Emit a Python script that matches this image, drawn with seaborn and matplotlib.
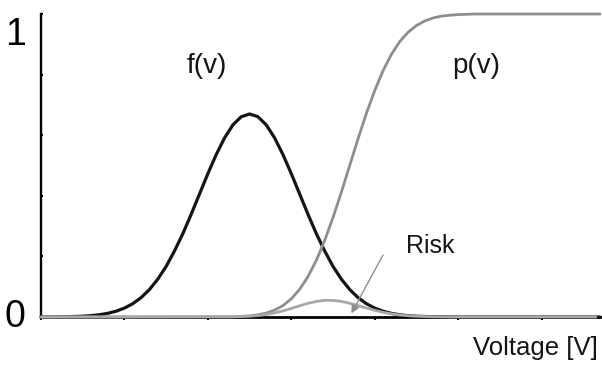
import numpy as np
import pandas as pd
import matplotlib
matplotlib.use("Agg")
import matplotlib.pyplot as plt
import matplotlib.transforms as mtransforms
import seaborn as sns

# ---------------------------------------------------------
# Values (x in tick units)
# ---------------------------------------------------------

# f(v): black bell curve
v_f = [0.0, 0.3, 0.5, 0.6, 0.7, 0.8, 0.9, 1.0, 1.1, 1.2, 1.3, 1.4, 1.5,
       1.6, 1.7, 1.8, 1.9, 2.0, 2.1, 2.2, 2.3, 2.4, 2.5, 2.6, 2.7, 2.8,
       2.9, 3.0, 3.1, 3.2, 3.3, 3.4, 3.5, 3.6, 3.7, 3.8, 3.9, 4.0, 4.1,
       4.2, 4.3, 4.4, 4.5, 4.7, 5.0, 6.7]
f_v = [0.0, 0.0008, 0.0026, 0.0045, 0.0074, 0.0121, 0.0191, 0.0294,
       0.044, 0.064, 0.0907, 0.125, 0.167, 0.218, 0.275, 0.339, 0.406,
       0.473, 0.536, 0.591, 0.634, 0.661, 0.670, 0.661, 0.634, 0.591,
       0.536, 0.473, 0.406, 0.339, 0.275, 0.218, 0.167, 0.125, 0.0907,
       0.064, 0.044, 0.0294, 0.0191, 0.0121, 0.0074, 0.0045, 0.0026,
       0.0008, 0.0, 0.0]

# p(v): grey S-curve
v_p = [0.0, 2.3, 2.4, 2.5, 2.6, 2.7, 2.8, 2.9, 3.0, 3.1, 3.2, 3.3, 3.4,
       3.5, 3.6, 3.7, 3.8, 3.9, 4.0, 4.1, 4.2, 4.3, 4.4, 4.5, 4.6, 4.7,
       4.8, 4.9, 5.0, 5.2, 6.7]
p_v = [0.0, 0.0008, 0.0019, 0.0038, 0.0073, 0.0131, 0.0228, 0.0377,
       0.0599, 0.0912, 0.1333, 0.187, 0.2525, 0.3284, 0.412, 0.5, 0.588,
       0.672, 0.7475, 0.813, 0.867, 0.909, 0.940, 0.962, 0.977, 0.987,
       0.993, 0.996, 0.998, 1.0, 1.0]

# Risk: small grey hump
v_r = [0.0, 2.3, 2.4, 2.5, 2.6, 2.7, 2.8, 2.9, 3.0, 3.1, 3.2, 3.3, 3.4,
       3.5, 3.6, 3.7, 3.8, 3.9, 4.0, 4.1, 4.2, 4.3, 4.4, 4.5, 4.6, 4.7,
       4.9, 6.65]
risk = [0.0, 0.0006, 0.0013, 0.0025, 0.0048, 0.0083, 0.0135, 0.0202,
        0.0283, 0.0370, 0.0452, 0.0514, 0.0550, 0.0548, 0.0515, 0.0454,
        0.0376, 0.0296, 0.0220, 0.0155, 0.0105, 0.0067, 0.0042, 0.0025,
        0.0015, 0.0008, 0.0, 0.0]

x_ticks = [0, 1, 2, 3, 4, 5, 6]
y_ticks = [0.0, 0.2, 0.4, 0.6, 0.8, 1.0]
y_tick_labels = ["0", "", "", "", "", "1"]

# ---------------------------------------------------------
# Figure
# ---------------------------------------------------------

sns.set_style("white")
plt.rcParams["font.family"] = ["Liberation Sans", "DejaVu Sans"]

fig = plt.figure(figsize=(6.02, 3.65), dpi=100)
ax = fig.add_axes([41 / 602, 48 / 365, 559 / 602, 303 / 365])

sns.lineplot(x=v_f, y=f_v, ax=ax, color="#151515", linewidth=2.3,
             estimator=None, sort=False, clip_on=False, zorder=3)
sns.lineplot(x=v_p, y=p_v, ax=ax, color="#8e8e8e", linewidth=2.0,
             estimator=None, sort=False, clip_on=False, zorder=4)
sns.lineplot(x=v_r, y=risk, ax=ax, color="#a8a8a8", linewidth=2.0,
             estimator=None, sort=False, clip_on=False, zorder=4)

ax.set_xlim(0, 6.7)
ax.set_ylim(0, 1)

ax.set_xticks(x_ticks)
ax.set_xticklabels([])
ax.set_yticks(y_ticks)
ax.set_yticklabels(y_tick_labels, fontsize=27, color="black")

ax.tick_params(axis="x", direction="out", length=2.5, width=1.5,
               color="black", bottom=True)
ax.tick_params(axis="y", direction="in", length=1.5, width=1.5,
               color="black", pad=11, left=True)

# the "1" sits lower than its tick, the "0" a touch higher
for lab in ax.get_yticklabels():
    if lab.get_text() == "1":
        lab.set_transform(lab.get_transform() + mtransforms.ScaledTranslation(
            0, -0.17, fig.dpi_scale_trans))
    elif lab.get_text() == "0":
        lab.set_transform(lab.get_transform() + mtransforms.ScaledTranslation(
            0, 0.04, fig.dpi_scale_trans))

for side in ["top", "right"]:
    ax.spines[side].set_visible(False)
ax.spines["left"].set_linewidth(1.7)
ax.spines["bottom"].set_linewidth(2.0)
ax.spines["left"].set_color("black")
ax.spines["bottom"].set_color("black")

ax.set_xlabel("")
ax.set_ylabel("")

# ---------------------------------------------------------
# Annotations
# ---------------------------------------------------------

ax.text(1.74, 0.83, "f(v)", fontsize=20, ha="left", va="center",
        color="#151515")
ax.text(4.93, 0.83, "p(v)", fontsize=20, ha="left", va="center",
        color="#151515")
ax.text(4.38, 0.235, "Risk", fontsize=18, ha="left", va="center",
        color="#151515")

ax.annotate("", xy=(3.72, 0.012), xytext=(4.1, 0.205),
            arrowprops=dict(arrowstyle="-|>", color="#8e8e8e", lw=1.0,
                            mutation_scale=12, shrinkA=0, shrinkB=0),
            zorder=5)

ax.text(6.67, -0.103, "Voltage [V]", fontsize=18.5, ha="right",
        va="center", color="#151515", clip_on=False)

fig.savefig("out.png", dpi=100)
